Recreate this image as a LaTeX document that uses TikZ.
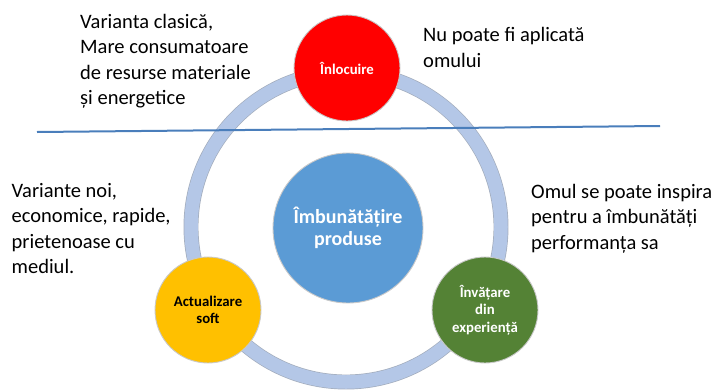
\documentclass[tikz,border=0pt]{standalone}
\usepackage{fontspec}
\setmainfont{Carlito}
\definecolor{ringblue}{HTML}{B4C7E7}
\definecolor{ringedge}{HTML}{A3ADBD}
\definecolor{redc}{HTML}{FF0000}
\definecolor{yellowc}{HTML}{FFC000}
\definecolor{greenc}{HTML}{548235}
\definecolor{bluec}{HTML}{5B9BD5}
\definecolor{linec}{HTML}{4A7EBB}
\definecolor{edgec}{HTML}{C9C9C9}
\begin{document}
\begin{tikzpicture}[x=1pt,y=-1pt,
  ringstyle/.style={circle,minimum size=310pt,inner sep=0pt,draw=ringedge,line width=0.7pt,double=ringblue,double distance=13.5pt},
  smallc/.style={circle,minimum size=106pt,inner sep=0pt,draw=edgec,line width=0.9pt,align=center,
    font=\bfseries\fontsize{14.8}{17.5}\selectfont},
  bigc/.style={circle,minimum size=150pt,inner sep=0pt,draw=edgec,line width=0.9pt,align=center,fill=bluec,text=white,
    font=\bfseries\fontsize{20}{21.5}\selectfont},
  sidetext/.style={anchor=base west,inner sep=0pt,align=left,font=\fontsize{20.5}{25.5}\selectfont},
  divline/.style={draw=linec,line width=2pt}]
\useasboundingbox (0,0) rectangle (718,389);
\node[ringstyle] (ring) at (346,227) {};
\node[bigc] (imb) at (348,228) {Îmbunătățire\\produse};
\node[smallc,fill=redc,text=white] (inl) at (347,68) {Înlocuire};
\node[smallc,fill=yellowc,text=black] (act) at (208,310) {Actualizare\\soft};
\node[smallc,fill=greenc,text=white] (inv) at (485,310) {Învățare\\din\\experiență};
\coordinate (l1) at (37,132);
\coordinate (l2) at (660,126);
\draw[divline] (l1) -- (l2);
% base anchor = baseline of last line
\node[sidetext] (t1) at (80,104.5) {Varianta clasică,\\Mare consumatoare\\de resurse materiale\\și energetice};
\node[sidetext] (t2) at (423,67.2) {Nu poate fi aplicată\\omului};
\node[sidetext] (t3) at (11.5,273.5) {Variante noi,\\economice, rapide,\\prietenoase cu\\mediul.};
\node[sidetext] (t4) at (531,249) {Omul se poate inspira\\pentru a îmbunătăți\\performanța sa};
\end{tikzpicture}
\end{document}
